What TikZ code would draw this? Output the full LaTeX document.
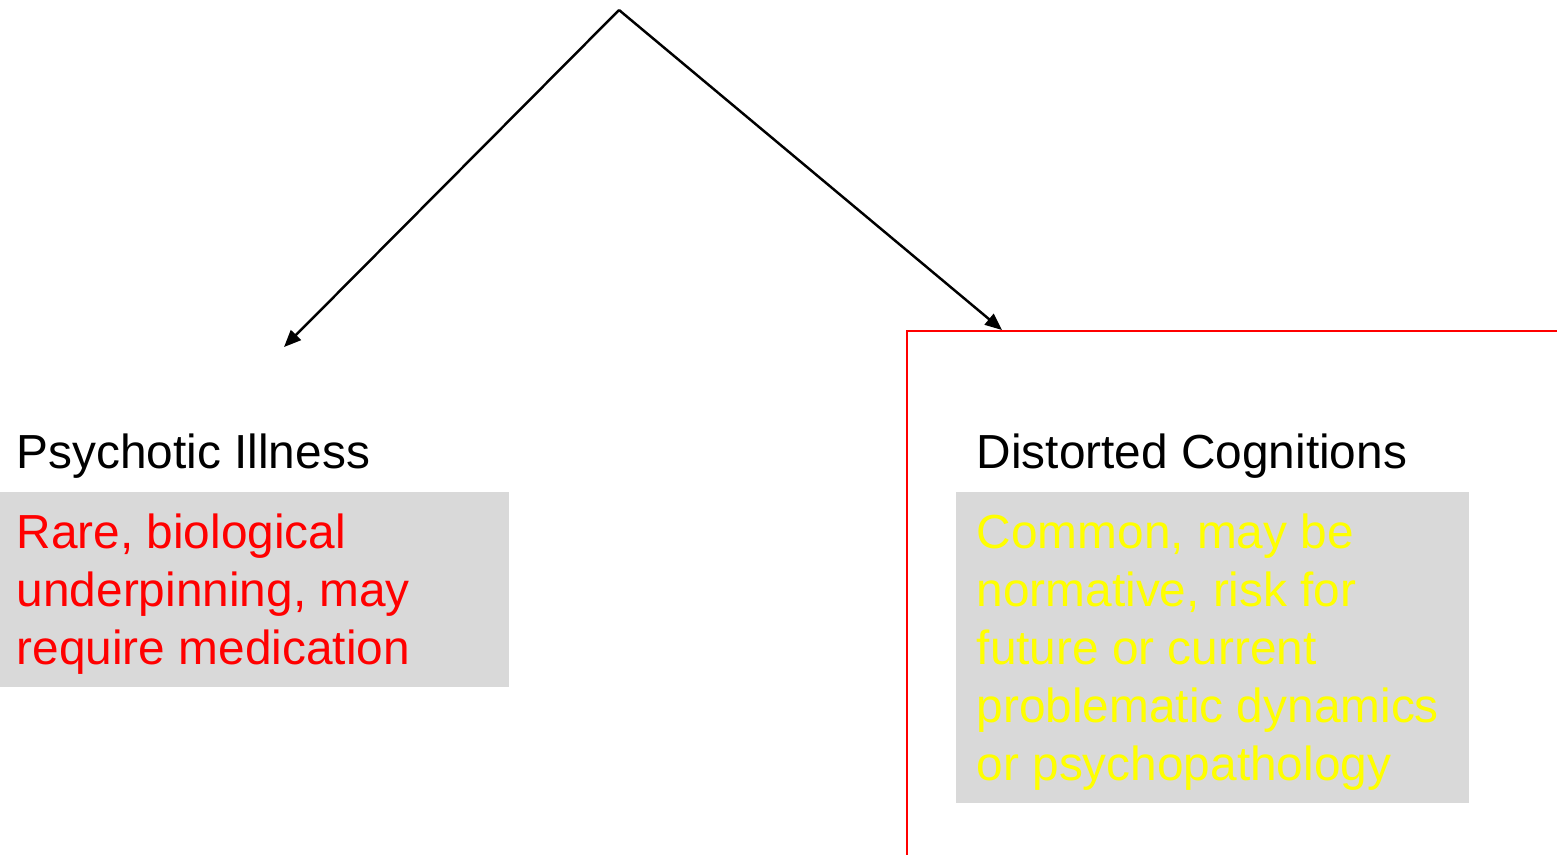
\documentclass[tikz,border=0pt]{standalone}
\usepackage{fontspec}
\setmainfont{Liberation Sans}
\usetikzlibrary{arrows.meta}
\definecolor{boxgrey}{HTML}{D9D9D9}
\definecolor{textred}{HTML}{FF0000}
\definecolor{textyellow}{HTML}{FFFF00}

\begin{document}
\begin{tikzpicture}[scale=0.1,
        branch/.style={draw=black, line width=0.7pt, -{Triangle[length=1.7mm, width=1.4mm]}},
        heading/.style={anchor=base west, inner sep=0pt, font=\fontsize{13.6}{16.5}\selectfont},
        greybox/.style={fill=boxgrey, inner sep=0pt, anchor=north west},
        body/.style={anchor=base west, inner sep=0pt, align=left, font=\fontsize{13.6}{16.5}\selectfont}]
            \useasboundingbox (0,0) rectangle (155.7,-85.5);
            \fill [white] (0,0) rectangle (155.7,-85.5);
            \draw [textred, line width=0.7pt] (155.7,-33.1) -- (90.7,-33.1) -- (90.7,-85.5);
            \coordinate (apex) at (61.9,-1.0);
            \coordinate (illTip) at (28.4,-34.7);
            \coordinate (cogTip) at (100.2,-33.0);
            \draw [branch] (apex) -- (illTip);
            \draw [branch] (apex) -- (cogTip);
            \node [heading] (illHead) at (1.6,-46.8) {Psychotic Illness};
            \node [greybox, minimum width=5.09cm, minimum height=1.95cm] (illBox) at (-0.1,-49.1) {};
            \node [body, textred] (illText) at (1.6,-66.4) {Rare, biological\\underpinning, may\\require medication};
            \node [heading] (cogHead) at (97.6,-46.8) {Distorted Cognitions};
            \node [greybox, minimum width=5.13cm, minimum height=3.11cm] (cogBox) at (95.5,-49.1) {};
            \node [body, textyellow] (cogText) at (97.6,-78.0) {Common, may be\\normative, risk for\\future or current\\problematic dynamics\\or psychopathology};
        \end{tikzpicture}
\end{document}
